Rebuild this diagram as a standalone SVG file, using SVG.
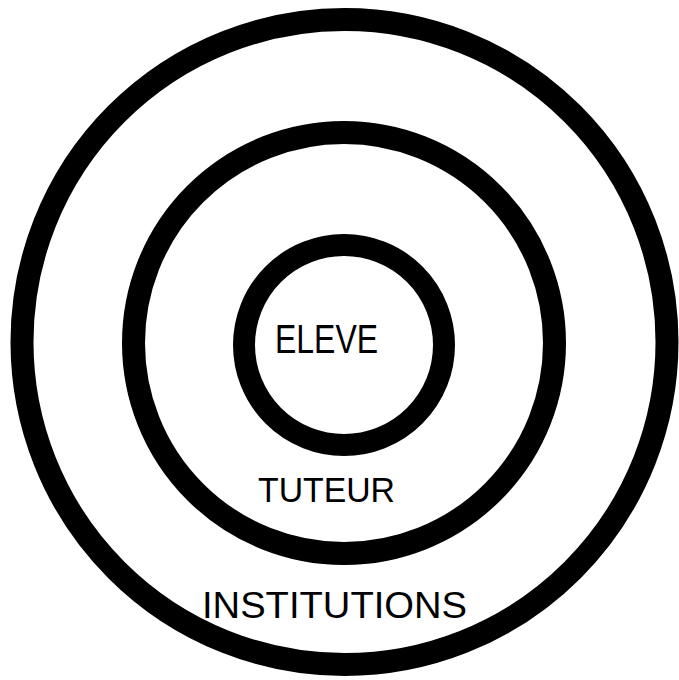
<svg xmlns="http://www.w3.org/2000/svg" width="679" height="680" viewBox="0 0 679 680">
<style>
.ring{fill:none;stroke:#000;stroke-width:23}
.lbl{font-family:"Liberation Sans","DejaVu Sans",sans-serif;fill:#000}
</style>
<rect width="679" height="680" fill="#fff"/>
<g id="institutions">
<circle class="ring" cx="344.5" cy="342" r="322.5"/>
<text class="lbl" x="202" y="618" font-size="37" textLength="265" lengthAdjust="spacingAndGlyphs">INSTITUTIONS</text>
</g>
<g id="tuteur">
<circle class="ring" cx="344" cy="343" r="210.5"/>
<text class="lbl" x="258" y="502" font-size="35" textLength="137" lengthAdjust="spacingAndGlyphs">TUTEUR</text>
</g>
<g id="eleve">
<circle class="ring" cx="344" cy="345" r="100" style="stroke-width:22"/>
<text class="lbl" x="275" y="353" font-size="40" textLength="103" lengthAdjust="spacingAndGlyphs">ELEVE</text>
</g>
<g id="connectors"/>
</svg>
